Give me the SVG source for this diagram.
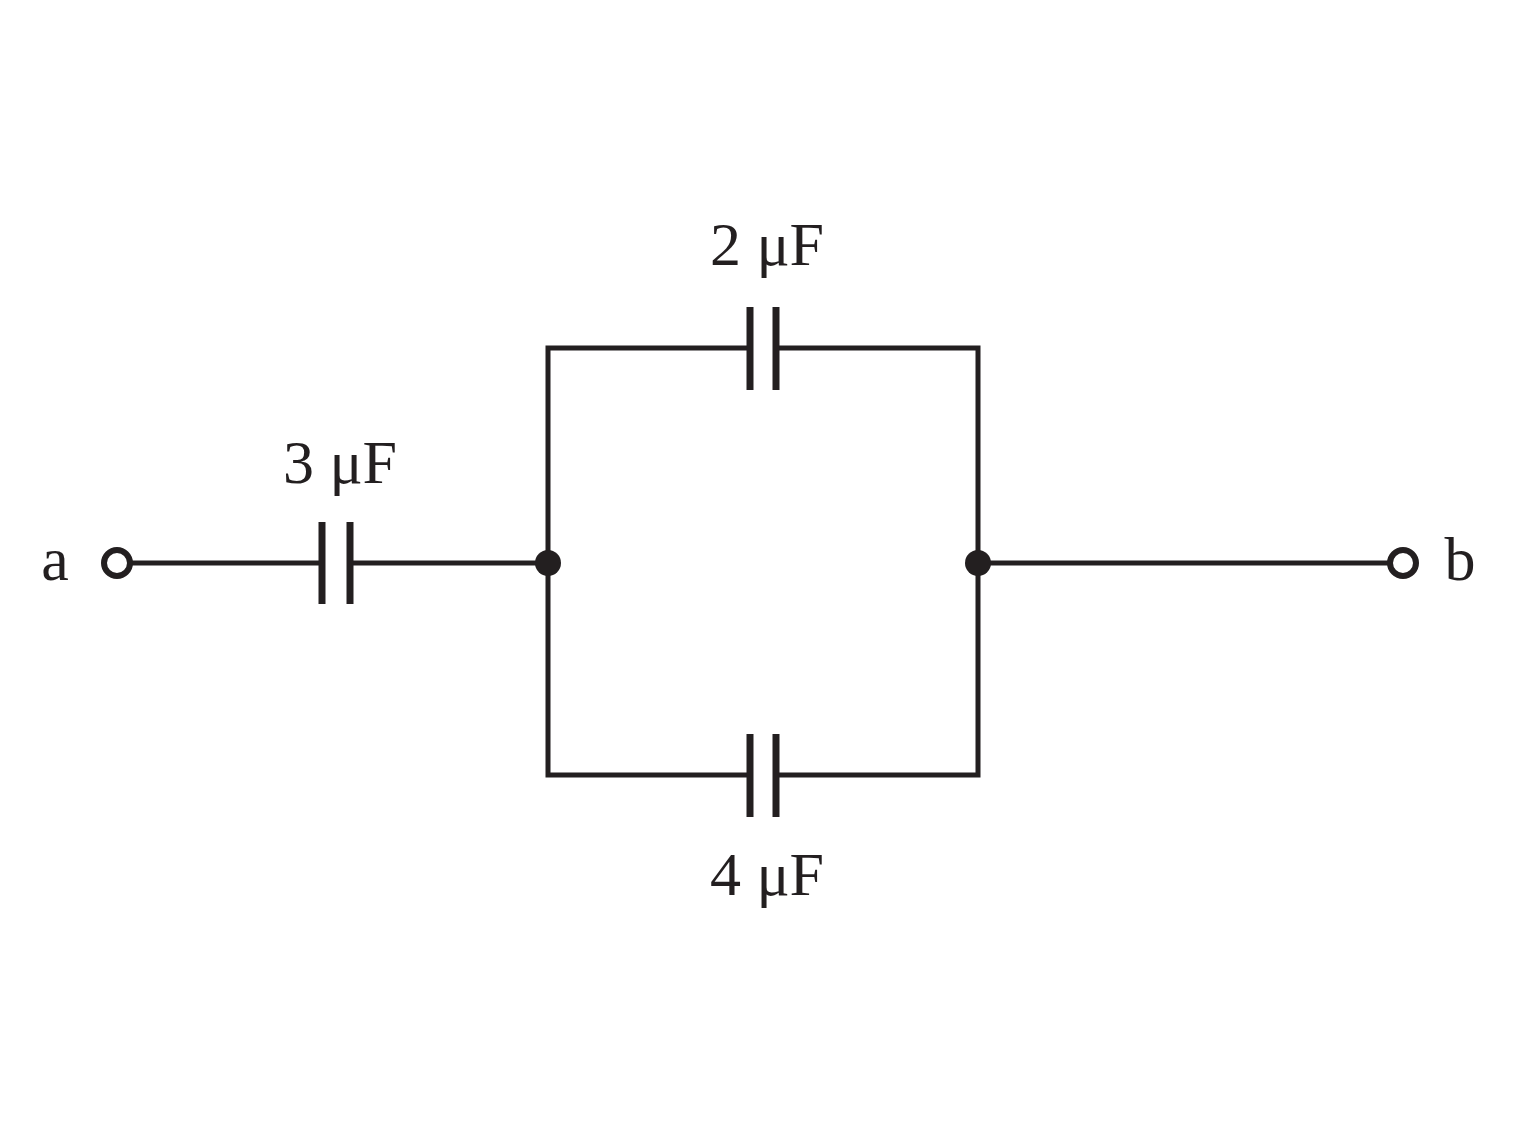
<svg xmlns="http://www.w3.org/2000/svg" width="1520" height="1126" viewBox="0 0 1520 1126">
<style>
.w{stroke:#231f20;stroke-width:5;fill:none}
.p{stroke:#231f20;stroke-width:7}
.t{font-family:"Liberation Serif",serif;font-size:62px;fill:#231f20;text-anchor:middle}
</style>
<rect width="1520" height="1126" fill="#fff"/>
<g id="connectors">
<path class="w" d="M131 563H322M350 563H548M548 563V348H750M776 348H978V775H776M750 775H548V563M978 563H1389"/>
</g>
<g id="C3"><line class="p" x1="322" y1="522" x2="322" y2="604"/><line class="p" x1="350" y1="522" x2="350" y2="604"/><text class="t" x="340" y="483">3 μF</text></g>
<g id="C2"><line class="p" x1="750" y1="307" x2="750" y2="390"/><line class="p" x1="776" y1="307" x2="776" y2="390"/><text class="t" x="767" y="265">2 μF</text></g>
<g id="C4"><line class="p" x1="750" y1="734" x2="750" y2="817"/><line class="p" x1="776" y1="734" x2="776" y2="817"/><text class="t" x="767" y="895">4 μF</text></g>
<g id="a"><circle cx="117" cy="563" r="13" fill="#fff" stroke="#231f20" stroke-width="6"/><text class="t" x="55" y="580">a</text></g>
<g id="b"><circle cx="1403" cy="563" r="13" fill="#fff" stroke="#231f20" stroke-width="6"/><text class="t" x="1460" y="580">b</text></g>
<g id="n1"><circle cx="548" cy="563" r="13" fill="#231f20"/></g>
<g id="n2"><circle cx="978" cy="563" r="13" fill="#231f20"/></g>
</svg>
